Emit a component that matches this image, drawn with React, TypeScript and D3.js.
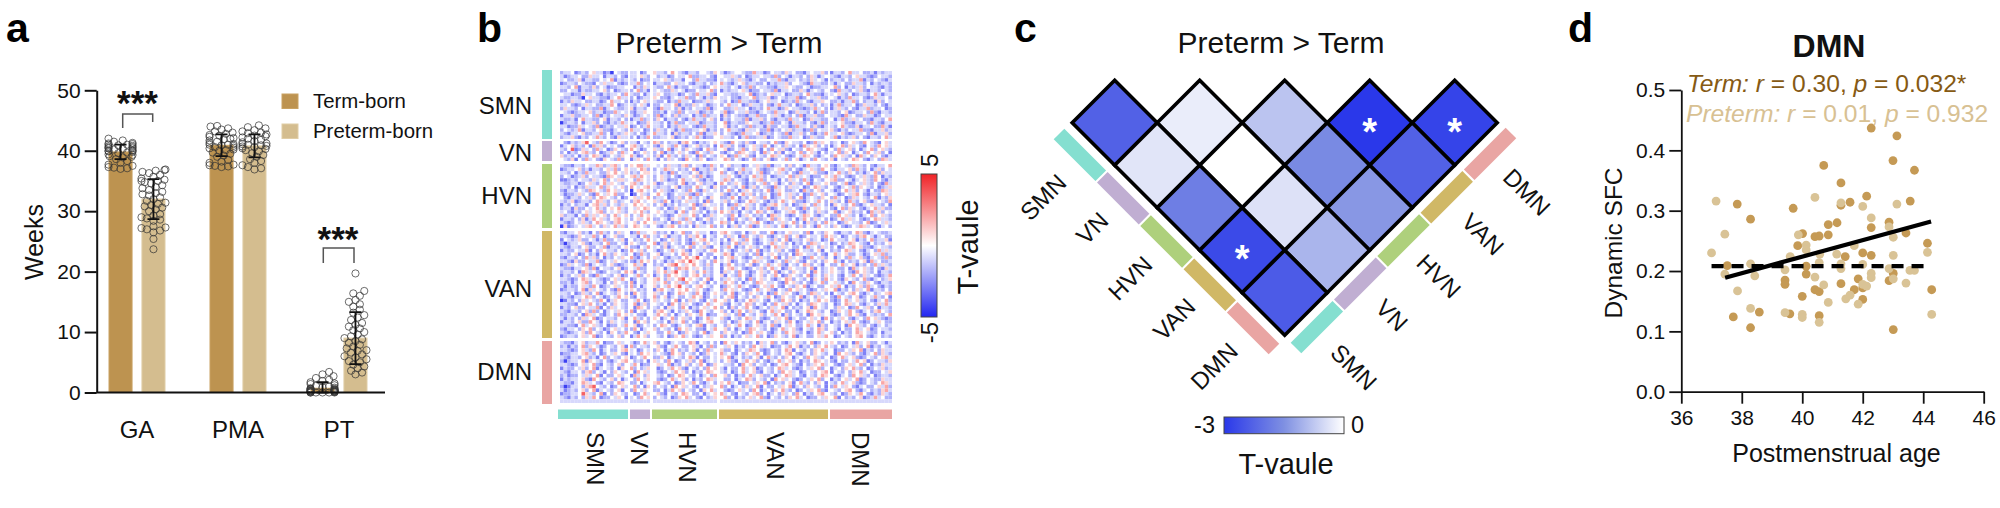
import React, { useEffect, useRef } from "react";
import * as d3 from "d3";

const FONT = "'Liberation Sans', Arial, sans-serif";

// panel a
const groups = ["GA", "PMA", "PT"];
const cohorts = ["Term-born", "Preterm-born"];
const termMeans = [39.8, 40.9, 0.7];
const pretermMeans = [32, 40.8, 9];
const termSd = [1.2, 1.8, 1];
const pretermSd = [3.3, 1.9, 4.3];
const weekTicks = [0, 10, 20, 30, 40, 50];
const gaTerm = [37, 37.1, 37.2, 37.3, 37.5, 37.7, 38, 38.3, 38.6, 38.9, 39, 39.1, 39.3, 39.4, 39.6, 39.7, 39.8, 39.9, 40, 40, 40.1, 40.2, 40.3, 40.4, 40.4, 40.5, 40.6, 40.7, 40.8, 40.9, 41, 41, 41.1, 41.2, 41.3, 41.5, 41.7, 42];
const gaPreterm = [23.7, 25.4, 26.5, 26.8, 27, 27.2, 27.3, 27.5, 28.4, 28.6, 28.8, 29, 29.3, 29.5, 30, 30.3, 30.6, 30.8, 31, 31.2, 31.4, 31.7, 32, 32.3, 32.6, 32.8, 33, 33.2, 33.5, 33.8, 34, 34.3, 34.6, 34.8, 35, 35, 35.2, 35.4, 35.7, 36, 36.3, 36.5, 36.7, 36.8, 36.9];
const pmaTerm = [37.3, 37.4, 37.5, 37.6, 37.7, 38, 38.2, 38.5, 39, 39.2, 39.5, 39.7, 40, 40.1, 40.2, 40.4, 40.5, 40.6, 40.8, 40.9, 41, 41, 41.1, 41.3, 41.5, 41.7, 41.9, 42, 42.1, 42.3, 42.5, 42.6, 42.8, 43, 43.2, 43.5, 43.7, 44, 44.1];
const pmaPreterm = [36.9, 37.1, 37.3, 37.6, 38, 38.3, 38.6, 39, 39.3, 39.6, 39.9, 40.1, 40.3, 40.4, 40.6, 40.7, 40.8, 40.9, 41, 41.1, 41.2, 41.4, 41.6, 41.8, 42, 42.2, 42.4, 42.5, 42.7, 42.9, 43, 43.2, 43.4, 43.7, 43.9, 44.2];
const ptTerm = [0, 0, 0, 0, 0, 0, 0.1, 0.1, 0.1, 0.2, 0.2, 0.2, 0.3, 0.3, 0.3, 0.4, 0.4, 0.5, 0.5, 0.6, 0.6, 0.7, 0.8, 0.9, 1, 1.1, 1.2, 1.4, 1.5, 1.7, 1.9, 2.1, 2.4, 2.7, 3, 3.4];
const ptPreterm = [3, 3.3, 3.6, 4, 4.3, 4.6, 5, 5.2, 5.5, 5.8, 6, 6.3, 6.6, 6.9, 7, 7.3, 7.6, 7.9, 8.2, 8.5, 8.8, 9, 9.3, 9.6, 10, 10.3, 10.6, 10.9, 11.2, 11.5, 12, 12.4, 12.8, 13.2, 13.7, 14.2, 14.6, 15, 15.3, 16, 16.4, 16.8, 19.7];

// panel b
const networks = ["SMN", "VN", "HVN", "VAN", "DMN"];
const networkColors = ["#85dfd0", "#c0aed2", "#aed07c", "#d0b866", "#e9a5a3"];
const networkCells = [19, 6, 18, 30, 17];
// one row per region, hand typed estimate: . none, a-d negative, x-z positive
const heatLevels: Record<string, number> = { ".": 0, a: -0.9, b: -1.8, c: -2.9, d: -4.4, x: 1, y: 2, z: 3.6 };
const heatRows = [
  "baa.cbab.xaacbd.abbaa.cb.xaab.y.abcaab..abxacba..abbyaacb.aabxa.bbca.aaxbcaab.yaa.bbacabaa",
  "acbaa.bbxaa.caab.bcaa.xab.baacb.aa.ybbaa.bc.aaxab.cbaa.aabyb.acaab.bxaca.abcaab.xaabcb.aab",
  "a.bbaxcaabb.a.ycabaab.cbbaa.xabaac..byaabbca.abaxabca.bb.aaybcaa.babxa.acbaab.baaycab.abca",
  "cbaab.abbc.axaa.bcbaayb.acaabb.xaa.bcaab.bayabca.xbaabb.cabaaxb..abcyaabbaca.bbxaab.cabaab",
  "aab.ycaabxb.acbbaa..cabxaabb.yacabb.aabcb.xaab.acabyb.aabbcaax.abb.acbbaa.yb.cabaxb.aabcab",
  "bb.aacabbaa.xb.cbaab.ybaca.abbxa.acbb.aa.ybcabaa.xacbb.aabycaa.bbxaca.ab.bcyaab.axbcaab.ab",
  ".aacbbxaa.bcabaa.byabb.caax.bbaacb.abyaaxbc.aabbaa.ycbab.xaa.cbaab.yabbcaa.xab.cbaab.yacaa",
  "abbaabd.xaabbca.yaab.cbaax.bbca.aaybb.acabxaa.bbcaa.ybaaxcb.abaaycb.aaxbb.acabyaa.bcbxaa.b",
  "cabxaa.bbaacb.yaa.bcab.xaabb.cabyaa.cbbaxa.ab.cbyaabbca.xaa.cbabya.bcaax.bbacaayb.baacxb.a",
  "aa.bcbaxa.bbaay.cbaab.xacbb.aa.ycabbxa.acbab.yaa.cbxaab.bcayaab.cbaaxb.bacaybaa.cbxaab.bca",
  "bxaab.caabbyca.abbaxcaab.bcyaa.bxcab.aabyca.bbaxaa.cbab.yaacbx.aabcbaya.bcaxab.bcaaybaa.cb",
  ".abcbaa.xbaacbbya.abcaax.bbac.abyb.aaxcbab.aycb.aaxbbca.abyaa.cbxaab.caybaab.xcbaa.bybcaab",
  "caaxbbaa.bycab.aabxacba.abyca.bxbaa.cabybaacxb.abbcaaybb.axacab.bycaaxbb.aabcya.bbxaacb.aa",
  "abbac.yaabb.xcaab.bcaaybabx.caab.bcayaab.xbcab.aabycaaxb.bcaabyaa.cbxaabb.caybaxa.bbcaab.y",
  "dbaab.caaxb.bcabayaa.cbbxaab.caybb.aaxcbaab.ycaabbx.aacbaybb.acxaab.bcaybaa.xbbcaa.byabcaa",
  "aacbbxa.abycbab.aaxcb.bayaab.cabxaa.bcbyaab.xcab.abybaacxbb.aacbyaa.bxbcaab.yabbxcaa.bbyac",
  "b.abaycaab.xbbca.abyaa.cbbxab.acaybbaa.xcabb.yaabcxaa.bbycab.axbaacbyb.aaxbcab.aaybbcaaxba",
  "abcaa.xbbaayb.cabaxab.bcayaab.cxbaab.bycaaxb.abcbyaa.xcbab.abycaaxb.bcabyaa.xbcbaa.bycaaxb",
  "baaxbcab.ayab.bcxaab.cabybbaa.xcbab.ayacbb.xaab.caybbaaxcb.abbyaa.cbxabb.aycabaxb.bcaab.ya",
  ".bcabaxz.aby.acb.xbaac.abyxb.baacxy.bcaba.xabcy.abxbc.aab.ybcx.aab.cbyax.ba.cb.xaby.abc.xa",
  "ca.xbab.cyaxb.a.bc.xyab.abcx.aby.bca.xbab.cyaxb.bca.xaby.ca.bxab.cya.xb.bca.ybxa.bc.aby.xa",
  "ab.zcbxa.bya.cbx.aby.acb.xab.yca.bx.abc.yab.xcb.ayb.xac.by.axbc.ab.yx.abc.bya.xb.ca.yb.xab",
  "b.cab.xyab.cbax.bya.cb.xab.ycab.xa.bcy.abx.bca.byx.ab.cya.bxc.ab.yb.xac.ba.ybx.ca.by.axb.c",
  "xbab.cab.yxacb.abx.yacb.abxc.yab.bxa.cyb.abx.cbya.xbc.ab.yxa.bcb.ayx.bca.by.xab.cya.bx.bca",
  ".abxc.bya.bcx.abyb.cax.byac.bxa.bcy.abx.cba.yxb.acb.yab.xcb.ayb.xca.by.abxc.ab.yx.bca.byxa",
  "abbcaab.aayxbaxya.bx.yyax.a.bxaabxyb.aacbyab.xbaacb.axabycaa.bxb.acyaab.xbca.abyxab.bcaa.y",
  "cbaa.xbacaab.xayb.xaa.yxbb.ayxa.bab.ycaabxb.acb.ayaa.xbcba.xyab.bca.xaby.bcaa.xbyab.caxb.a",
  "aab.cabyaa.bbx.y.axbab.xxa.bacyb.aab.xcaba.yb.acxbab.aycb.axab.bcyaa.xbbca.yabx.baca.ybxaa",
  "b.acbaxb.aabcyx.ab.xyay.ab.xab.bcaa.xbyacb.aax.bcab.yaxb.cbaa.ybxa.acbb.xaya.bcb.axaby.cab",
  "ccbab.aabxa.yb.axxa.byx.ab.xacbb.yaa.xbcab.ayxb.abc.axyb.aac.bxa.byac.ab.xybb.aca.xaby.bca",
  "abbaacb.xab.yax.ab.xyab.axcb.aab.ycab.xbaacy.bax.bcab.ayb.xca.bxab.ycaa.xbb.aycb.axab.bcya",
  "aab.cabxaa.ybx.a.xby.a.xyabaab.xcabb.ya.acxbb.ab.ycaxb.abcya.bxaa.cb.yxab.bca.aybx.ab.cbax",
  "bcaab.abyx.aby.xa.bd.xy.ab.xabca.aby.bcxa.ab.yb.cax.bab.ycax.bba.cyab.xb.acb.yaxb.ac.bbyxa",
  "acbbaxa.bcy.ax.ybb.dc.xab.y.acb.aaxbcyb.aa.xbcab.yaxb.ba.cby.axab.cbya.xb.acb.axy.bcaab.xa",
  ".bcaab.axb.yx.ab.cb.xax.ybaa.cbaxb.yab.acx.bbay.cab.xaby.cba.axb.yca.abx.bya.cbxa.ab.ycabx",
  "abaxcbaab.yxab.xba.bxy.a.xaby.cab.xaab.cyb.axb.acb.yxa.bcab.ya.xbbca.ay.bxab.cyab.xbca.aby",
  "cab.baac.xyaxb.abxa.y.x.ab.xcab.baa.ycbx.aab.cbya.xab.bcaxy.ab.cbax.bya.bcx.ab.ybca.xaab.c",
  "baacxbb.a.yab.x.yab.ax.yx.ab.cbxa.aby.bca.xb.ayb.cxab.baycb.axa.bcyb.ax.abc.ybxa.bca.yaxbb",
  "a.bcab.xa.xyb.a.xab.x.yab.x.baac.yb.xab.caby.xbac.ab.yxb.acb.axy.bca.bxab.yca.xbab.cyaxb.a",
  "xbaac.byaxa.xb.ya.xb.ay.xa.abcb.xaa.yb.cbxa.aby.cax.bab.cyxa.bcb.ayx.bca.bby.xab.ca.yb.xab",
  "caab.bxcay.xab.xy.ab.xa.ybb.acx.abya.cb.xbaa.cyb.abx.cba.ybx.ab.cay.bxa.bcb.yaxa.bcb.yxaab",
  "abcb.axab.yx.abxy.a.xb.y.xaab.cby.axb.acab.yxb.cab.axy.bcb.axa.yb.cxab.bya.cbx.aab.ycb.axa",
  "dxcba.axya.bxa.yaxb.yx.ab.bcaxy.bab.cxaa.ybb.caxb.aycb.axab.yca.bxb.acy.abx.bcb.ayxa.bca.b",
  "bcaa.xbac.byab.bxa.cbyaa.xbab.ca.ybb.xaa.cbxy.abb.cax.bb.ycab.xaa.byc.abx.bcaab.yxbca.abba",
  "aabcbx.aayb.ca.xbb.aac.ybab.xcaab.bxay.c.ab.bxa.cyb.abx.bca.ayb.xcb.aa.byxa.cb.abxy.aca.bb",
  "c.abaxbb.acaybb.axc.bab.ya.cb.xab.bca.xy.bab.cx.aby.bca.abxb.ycaab.xba.cby.aab.xcab.ybaaxc",
  "bdbaa.xbcaab.ybb.acx.abb.ycaxb.ab.bcya.bx.acab.ybxa.bcb.aya.xb.cab.byxa.acb.bayx.abc.bab.x",
  "abcaab.xbb.aycaab.xbbc.aya.bxca.ab.yb.axbc.bay.cab.xab.bc.yaxa.bb.cya.bxab.cb.ay.xbbca.aab",
  "cabb.aayc.bx.aab.cby.axb.acb.aya.xbc.aab.xyb.acb.axb.ycab.axb.bcy.aab.xc.bab.yxa.bca.byaxa",
  "aab.xcb.bac.yabx.ab.cbyab.xcaa.b.yxb.ac.bb.ayxc.aab.byc.ax.bab.cyx.aab.bc.ya.xbb.acb.xayba",
  "bcaab.byaxb.cab.ax.ybca.bxa.bcaab.y.xz.ab.cb.xya.bcb.axab.yc.bxa.acby.axb.ca.bya.xbca.abyb",
  "aabcxbb.aaycb.ax.abbcay.xb.acab.xy.zx.ab.bya.xcb.ab.yxa.bca.bya.xbc.ab.bx.yac.bab.xcya.bba",
  "cbxa.abyca.ab.xbcba.yaxc.bab.xyz.ax.y.abxb.cay.bab.xcb.aya.xbc.ab.yxb.ac.bb.ya.xcab.byaxab",
  "abbcaa.xbyc.aab.xcb.aybb.ax.ca.byxy.ax.bab.c.xya.bcb.axb.ya.cbx.aab.yc.bax.bb.cya.xab.bcxa",
  "baab.cyxa.bcb.aab.yxc.ab.bx.yaxz.ab.xb.yab.cxa.by.acb.xab.yca.bx.ab.cy.bax.ab.bcy.xab.caab",
  "cab.axb.bcya.ab.xcb.ayb.xca.by.x.ab.xy.bab.xc.aby.bca.xb.ay.cbx.ab.yca.bxa.bc.ay.bxa.bcbay",
  "aabcb.yxa.abcb.xay.cb.ab.xy.bxa.yz.x.ab.yc.bax.ab.cyb.xa.bca.yxb.ab.cx.bya.bcx.ab.ybca.bax",
  "bbaca.xyb.aac.bx.abyc.ab.xa.yb.xaby.ab.xc.bay.xb.ca.byx.aa.bcy.xab.bca.yb.xab.cy.abx.bcaab",
  "acabb.xaby.cba.xa.byb.ca.xb.ay.xz.ab.xy.ab.cbx.aya.bcb.xay.bc.abx.yca.bb.xay.cab.xbya.bcab",
  "cbaab.ycxa.ab.bcy.ax.bab.cxy.ab.x.y.ax.bca.by.xa.bcb.ya.xbc.aby.xa.bcb.ax.ycab.bxa.ycaab.b",
  "aab.cbxab.yca.abx.bcy.ab.xab.cb.yx.aby.cb.xab.yca.bx.ab.cby.ax.bca.byxa.bc.ab.xy.bca.ba.xy",
  "babcaa.yxb.acb.ay.xbc.ab.yb.xca.bb.ay.xcb.ab.xyc.ab.bx.ay.cbx.ab.yca.bxa.bcy.ab.xcb.ayab.c",
  "dcab.bxa.aby.cax.bb.ay.cbxa.ab.yc.bxa.bc.ay.xb.cab.yxa.bc.aby.xb.cab.ay.xbcb.ya.xab.bca.yb",
  "aabbc.xay.bac.bx.ab.ycaxb.ab.cy.bxa.bcb.ya.xbc.ab.yxb.ac.by.axb.ca.byx.ab.cb.yxa.bca.bxaya",
  "cab.xbb.aayc.bxa.ab.cyx.bab.cxa.by.cab.xa.yb.cxb.ay.bca.bxa.yc.bab.xcy.ab.bxa.cby.axb.caab",
  "abcaab.xbyb.ca.ax.byc.ab.bxy.ac.bax.bcy.ab.xb.cay.bxa.bc.yax.bb.ca.yx.ab.cbx.ay.bca.bxy.ab",
  "bbaab.cyxa.bca.by.xa.bbc.ay.xb.ca.bx.ay.cbb.xa.byc.ab.xb.ay.cxb.ab.cy.xa.bcb.ay.xbc.abab.y",
  "acab.bxa.ycb.aab.xc.yab.bx.ca.yb.xab.cb.ya.xbc.ab.yxa.bcb.ax.yca.bb.xa.cyb.ax.bca.by.xabcb",
  "caab.xbby.ac.bxa.ab.cy.xb.ab.cxa.yb.bca.xy.ab.cbx.ab.yca.bxa.by.cb.ax.yb.cab.xay.bcb.ax.bb",
  "aabbc.ya.xab.cbb.ay.xcb.ab.yx.bca.ab.xyc.ab.bx.ay.cb.xab.ybc.ax.bb.ya.cxb.ab.cy.xab.bca.ba",
  "bcaa.bx.yb.acb.xa.bby.ca.xb.ab.cy.xa.bbc.ay.xb.ca.byx.ab.cb.ya.xbc.ab.yxb.ac.bb.ya.xcb.aab",
  "abcba.xby.ab.cx.bay.bc.ax.bb.ya.cbx.ab.yca.bx.ab.cby.ax.bca.by.xab.cb.ya.xb.cab.yx.abb.caa",
  "cbaab.xa.ycb.ab.xb.cay.xb.ab.cbx.ya.bcb.ax.yb.cab.xa.yb.cbx.ab.yca.bb.xay.cb.ab.xy.bca.bab",
  "abbca.xbaay.cbb.xa.acb.yaxb.bca.ab.yxc.ab.bcy.ax.bab.cxa.yb.bca.xab.ycb.ax.bab.cya.xbb.aca",
  "bacab.ybx.acb.ab.xcyb.aab.xbc.ay.bb.xac.byb.ax.cab.by.xa.cbb.ay.xcab.bx.yab.cb.axb.ycab.ab",
  "aabcb.xaby.ca.bb.xya.cb.abx.cay.bab.xc.bya.xbb.ca.ayx.bcb.ab.yxc.ab.bx.ya.cbb.ax.ycab.bxaa",
  "cbbaa.xyab.cb.ax.bca.by.xa.abcy.xb.ab.cbx.aya.bc.bx.ay.cb.ab.xy.bca.bx.ab.cy.xab.bca.ybxab",
  "abcaab.xbac.yb.ab.xcb.ay.bbx.ca.ab.yxc.bb.ax.yca.bab.xc.yab.bx.ca.by.xab.cb.ya.xbcb.ab.xya",
  "bdbaa.ycx.ab.bca.xy.bab.cxa.by.cb.axb.yca.ab.xbc.ay.xb.bca.ya.xb.cab.yx.abc.bb.ay.xcb.aabx",
  "aabcb.xa.ybc.ab.xb.ay.cbb.xa.ycab.xb.ay.cbx.aab.cy.xb.ab.cb.xy.abc.bax.ya.bcb.xa.yb.cabxaa",
  "cabb.axb.yca.ab.cx.yb.bax.cb.ay.xbc.ab.by.xac.bb.ya.xcb.ab.yxa.bcb.ax.yb.ca.bx.yab.cb.axba",
  "abcaa.bxyb.ac.bx.ab.cy.xa.bcb.ay.xb.cab.yx.ab.cb.ya.xbc.ab.by.xa.cb.ab.xyc.ab.bx.ya.cbb.ax",
  "bacbb.axa.yc.bb.xa.cya.bx.ab.cb.yx.ab.ca.by.xb.cab.ya.xbb.ca.yxa.bc.ab.yx.bca.by.xab.cbaab",
  "cabaa.xbcy.ab.xb.ca.by.ax.bcb.ya.xb.cab.yxa.bb.ca.yxb.ab.cy.xa.bcb.ax.yb.cab.xa.ycb.abbxaa",
  "abbca.yxa.bc.ab.yx.bb.ca.xy.ab.cbx.ay.bca.bx.ya.cbb.ax.yc.bab.xc.yab.bx.cab.ya.xbcb.ab.yxa",
  "bdcaa.bxyz.ab.cb.xa.yb.cxb.ab.cy.xa.bc.bax.yb.ca.bxa.yc.bb.ax.yca.bx.ab.cby.ax.bca.bb.xayb",
  "acbab.xb.yca.ab.xc.by.ax.bb.cay.xb.ab.cx.ya.bcb.xa.by.ca.bx.yab.cb.ax.ybc.ab.xy.bca.babxya",
  "cbbaa.zxab.yc.bx.ab.cb.ya.xbc.ab.yx.bb.ca.xya.bc.ab.xyb.ca.bxa.by.cab.xy.ab.cbx.ay.bcabxab",
  "abcab.bxay.cbb.ax.ca.by.xb.ab.cbx.ya.bc.bax.yb.cab.xa.ybc.ab.bx.ya.cbb.ax.yc.bab.xcbaya.bb",
];

// panel c, each row runs from the left side of the triangle to the right
const triangleValues = [
  [-2.3, -0.25, -0.8, -3, -2.8],
  [-0.35, 0, -1.6, -2.3],
  [-1.8, -0.4, -1.4],
  [-2.7, -1],
  [-2.4],
];
const significantCells = ["0-3", "0-4", "3-0"];

// panel d
const ageTicks = [36, 38, 40, 42, 44, 46];
const sfcTicks = [0, 0.1, 0.2, 0.3, 0.4, 0.5];
const termAge = [37.85, 38.29, 39.7, 40.01, 39.85, 40.42, 40.56, 40.86, 40.86, 41.15, 41.28, 41.28, 41.58, 42.13, 43.57, 42.87, 42.28, 43.43, 44.14, 41.42, 42, 42.28, 37.52, 40.13, 40.13, 39.43, 39.43, 41.28, 41.85, 41.72, 43.01, 42.87, 40.42, 40.56, 40, 42, 42, 44.28, 37.72, 38.58, 38.29, 39.59, 40.56, 43.01, 42.28, 43.13, 43, 43.71, 40.71];
const termSfc = [0.311, 0.286, 0.304, 0.262, 0.242, 0.257, 0.258, 0.26, 0.277, 0.28, 0.346, 0.309, 0.314, 0.324, 0.316, 0.281, 0.272, 0.263, 0.246, 0.224, 0.23, 0.226, 0.209, 0.208, 0.195, 0.185, 0.178, 0.179, 0.187, 0.169, 0.196, 0.184, 0.169, 0.166, 0.158, 0.153, 0.172, 0.169, 0.124, 0.132, 0.106, 0.129, 0.126, 0.103, 0.437, 0.424, 0.383, 0.367, 0.375];
const pretermAge = [37.15, 37.44, 37, 37.44, 38.29, 38.43, 37.86, 38.29, 39.43, 40, 40, 40.56, 40.86, 40.71, 40.42, 39.43, 39.6, 39.87, 40.13, 40.13, 40.42, 41.28, 41.14, 40.56, 41.28, 41.28, 41.72, 42, 42.28, 42, 42.28, 42.28, 42.87, 43.01, 43.01, 42.87, 43.01, 43.13, 43.43, 43.56, 43.71, 44.14, 44.28, 41.44, 41.58, 41.85, 42, 42.13, 40.58];
const pretermSfc = [0.316, 0.261, 0.23, 0.195, 0.212, 0.192, 0.167, 0.138, 0.131, 0.128, 0.123, 0.115, 0.148, 0.177, 0.19, 0.202, 0.224, 0.26, 0.243, 0.235, 0.322, 0.313, 0.228, 0.214, 0.212, 0.204, 0.242, 0.307, 0.288, 0.211, 0.196, 0.189, 0.273, 0.256, 0.226, 0.204, 0.187, 0.311, 0.18, 0.201, 0.201, 0.231, 0.128, 0.154, 0.16, 0.145, 0.178, 0.175, 0.228];
const termFit: [number, number][] = [[37.45, 0.189], [44.26, 0.282]];
const pretermFit: [number, number][] = [[37, 0.208], [44.1, 0.208]];

const TERM = "#bd9350";
const PRETERM = "#d4bd8f";

type Sel = d3.Selection<any, any, any, any>;

function put(g: Sel, str: string, x: number, y: number, size: number, anchor = "middle", angle = 0) {
  return g
    .append("text")
    .attr("transform", `translate(${x},${y}) rotate(${angle})`)
    .attr("text-anchor", anchor)
    .attr("font-size", size)
    .attr("fill", "#111")
    .text(str);
}

function styleAxis(a: Sel, size: number, width: number) {
  a.attr("font-family", FONT).attr("font-size", size);
  a.selectAll("path,line").attr("stroke", "#111").attr("stroke-width", width);
  a.selectAll("text").attr("fill", "#111");
}

// spreads the points sideways so they sit as a swarm, only x is computed
function swarm(values: number[], y: d3.ScaleLinear<number, number>, maxOffset: number) {
  const placed: { x: number; y: number }[] = [];
  values.forEach((v) => {
    const py = y(v);
    let best = 0;
    for (let k = 0; k <= 6; k++) {
      const tries = k === 0 ? [0] : [k * 2.2, -k * 2.2];
      const free = tries.find(
        (t) => Math.abs(t) <= maxOffset && placed.every((p) => Math.hypot(p.x - t, p.y - py) > 5.4)
      );
      if (free !== undefined) {
        best = free;
        break;
      }
      best = tries[placed.length % tries.length];
    }
    placed.push({ x: Math.max(-maxOffset, Math.min(maxOffset, best)), y: py });
  });
  return placed;
}

function drawBars(root: Sel) {
  const g = root.append("g");
  const y = d3.scaleLinear().domain([0, 50]).range([392.5, 90.3]);
  const x = d3.scalePoint<string>().domain(groups).range([137, 339]);
  const inner = d3.scaleBand<string>().domain(cohorts).range([-28, 28]).paddingInner(0.3);

  const series = [
    { name: cohorts[0], means: termMeans, sd: termSd, fill: TERM, edge: "#c9a262", points: [gaTerm, pmaTerm, ptTerm] },
    { name: cohorts[1], means: pretermMeans, sd: pretermSd, fill: PRETERM, edge: "#e0cda6", points: [gaPreterm, pmaPreterm, ptPreterm] },
  ];

  series.forEach((s) => {
    groups.forEach((grp, i) => {
      const cx = x(grp)! + inner(s.name)! + inner.bandwidth() / 2;
      g.append("rect")
        .attr("x", cx - inner.bandwidth() / 2)
        .attr("y", y(s.means[i]))
        .attr("width", inner.bandwidth())
        .attr("height", y(0) - y(s.means[i]))
        .attr("fill", s.fill)
        .attr("stroke", s.edge)
        .attr("stroke-width", 1);
      g.append("g")
        .selectAll("circle")
        .data(swarm(s.points[i], y, 12))
        .join("circle")
        .attr("cx", (d) => cx + d.x)
        .attr("cy", (d) => d.y)
        .attr("r", 3.6)
        .attr("fill", "none")
        .attr("stroke", "#333")
        .attr("stroke-opacity", 0.8)
        .attr("stroke-width", 0.9);
      const top = y(s.means[i] + s.sd[i]);
      const bottom = y(Math.max(0, s.means[i] - s.sd[i]));
      g.append("path")
        .attr("d", `M${cx - 6},${top}H${cx + 6}M${cx},${top}V${bottom}M${cx - 6},${bottom}H${cx + 6}`)
        .attr("fill", "none")
        .attr("stroke", "#111")
        .attr("stroke-width", 1.8);
    });
  });

  const left = g
    .append("g")
    .attr("transform", "translate(96.7,0)")
    .call(d3.axisLeft(y).tickValues(weekTicks).tickSize(12).tickSizeOuter(0).tickPadding(4));
  styleAxis(left, 21, 2);
  g.append("line").attr("x1", 96.7).attr("x2", 385).attr("y1", y(0)).attr("y2", y(0)).attr("stroke", "#111").attr("stroke-width", 2);

  groups.forEach((grp) => put(g, grp, x(grp)!, 438, 24));
  put(g, "Weeks", 43, 242, 25, "middle", -90);

  // significance brackets
  [
    { x1: 122.7, x2: 152.7, top: 114, l: 128, r: 122, label: 137.5, base: 115 },
    { x1: 323.3, x2: 354, top: 248, l: 263, r: 263, label: 338, base: 251 },
  ].forEach((b) => {
    g.append("path")
      .attr("d", `M${b.x1},${b.l}V${b.top}H${b.x2}V${b.r}`)
      .attr("fill", "none")
      .attr("stroke", "#555")
      .attr("stroke-width", 1.5);
    put(g, "***", b.label, b.base, 35).attr("font-weight", "bold");
  });

  cohorts.forEach((c, i) => {
    const ly = 94 + i * 30;
    g.append("rect").attr("x", 282).attr("y", ly).attr("width", 16).attr("height", 14.5).attr("fill", series[i].fill).attr("stroke", series[i].edge);
    put(g, c, 313, ly + 14, 20.4, "start");
  });
}

function drawMatrix(root: Sel, defs: Sel) {
  const g = root.append("g");
  const color = d3.scaleLinear<string>().domain([-5, 0, 5]).range(["#2226f0", "#ffffff", "#f02226"]);
  const xBlocks = [[560, 628], [630, 650], [653, 717], [720, 828], [830, 892]];
  const yBlocks = [[71, 139], [141, 161], [164, 228], [231, 338], [341, 403]];

  const starts = d3.cumsum(networkCells);
  const indexRange = (n: number) => d3.range(n === 0 ? 0 : starts[n - 1], starts[n]);
  const xBands = networks.map((_, n) => d3.scaleBand<number>().domain(indexRange(n)).range(xBlocks[n] as [number, number]));
  const yBands = networks.map((_, n) => d3.scaleBand<number>().domain(indexRange(n)).range(yBlocks[n] as [number, number]));

  const cellValue = (i: number, j: number) => heatLevels[heatRows[i]?.[j] ?? "a"] ?? 0;

  defs.append("filter").attr("id", "soft").append("feGaussianBlur").attr("stdDeviation", 0.55);
  const cells = g.append("g").attr("filter", "url(#soft)");
  networks.forEach((_, rn) => {
    networks.forEach((__, cn) => {
      indexRange(rn).forEach((i) => {
        indexRange(cn).forEach((j) => {
          const v = cellValue(i, j);
          if (v === 0) return;
          cells
            .append("rect")
            .attr("x", xBands[cn](j)!)
            .attr("y", yBands[rn](i)!)
            .attr("width", xBands[cn].bandwidth())
            .attr("height", yBands[rn].bandwidth())
            .attr("fill", color(v));
        });
      });
    });
  });

  const leftBars = [[70, 139], [141, 161], [164, 228], [231, 338], [341, 404]];
  const bottomBars = [[558, 628], [630, 650], [652, 717], [719, 828], [830, 892]];
  const leftLabelY = [105, 152, 195, 288, 371];
  const bottomLabelX = [596, 640, 688, 776, 861];
  networks.forEach((n, i) => {
    g.append("rect").attr("x", 542).attr("y", leftBars[i][0]).attr("width", 10).attr("height", leftBars[i][1] - leftBars[i][0]).attr("fill", networkColors[i]);
    g.append("rect").attr("x", bottomBars[i][0]).attr("y", 409.5).attr("width", bottomBars[i][1] - bottomBars[i][0]).attr("height", 9.5).attr("fill", networkColors[i]);
    put(g, n, 532, leftLabelY[i], 24, "end").attr("dy", "0.36em");
    put(g, n, bottomLabelX[i], 432, 24, "start", 90).attr("dy", "0.36em");
  });

  put(g, "Preterm > Term", 719, 53, 30);

  const grad = defs.append("linearGradient").attr("id", "bwr").attr("x1", 0).attr("x2", 0).attr("y1", 1).attr("y2", 0);
  [-5, 0, 5].forEach((t) => grad.append("stop").attr("offset", (t + 5) / 10).attr("stop-color", color(t)));
  g.append("rect").attr("x", 921).attr("y", 174).attr("width", 16).attr("height", 143).attr("fill", "url(#bwr)").attr("stroke", "#444").attr("stroke-width", 1);
  put(g, "5", 929, 167, 24, "start", -90).attr("dy", "0.36em");
  put(g, "-5", 929, 322, 24, "end", -90).attr("dy", "0.36em");
  put(g, "T-vaule", 968, 247, 29, "middle", -90).attr("dy", "0.36em");
}

function drawTriangle(root: Sel, defs: Sel) {
  const g = root.append("g");
  const half = 42.5;
  const color = d3.scaleLinear<string>().domain([-3, -1.5, 0]).range(["#2a38ea", "#7f90e2", "#ffffff"]);
  const column = d3.scaleLinear().domain([0, 1]).range([1114.7, 1199.7]);
  const row = d3.scaleLinear().domain([0, 1]).range([122.7, 165.2]);

  triangleValues.forEach((vals, r) => {
    vals.forEach((v, k) => {
      const cx = column(k) + r * half;
      const cy = row(r);
      g.append("path")
        .attr("d", `M${cx},${cy - half}L${cx + half},${cy}L${cx},${cy + half}L${cx - half},${cy}Z`)
        .attr("fill", color(v))
        .attr("stroke", "#000")
        .attr("stroke-width", 3.6)
        .attr("stroke-linejoin", "miter");
      if (significantCells.includes(`${r}-${k}`)) {
        put(g, "*", cx, cy + 22, 38).attr("fill", "#fff").attr("font-weight", "bold");
      }
    });
  });

  const along = d3.scaleBand<string>().domain(networks).range([0, 304]).paddingInner(0.035);
  const leftBand = g.append("g").attr("transform", "translate(1059,134) rotate(45)");
  const rightBand = g.append("g").attr("transform", "translate(1296,348) rotate(-45)");
  networks.forEach((n, i) => {
    leftBand.append("rect").attr("x", along(n)!).attr("y", -7.5).attr("width", along.bandwidth()).attr("height", 15).attr("fill", networkColors[i]);
    rightBand.append("rect").attr("x", along(n)!).attr("y", -7.5).attr("width", along.bandwidth()).attr("height", 15).attr("fill", networkColors[i]);
  });

  const leftLabels = [[1043, 197], [1092, 228], [1130, 278], [1174, 319], [1214, 366]];
  const rightLabels = [[1354, 367], [1392, 315], [1439, 276], [1483, 234], [1527, 192]];
  networks.forEach((n, i) => {
    put(g, n, leftLabels[i][0], leftLabels[i][1], 24, "middle", -45).attr("dy", "0.36em");
    put(g, n, rightLabels[i][0], rightLabels[i][1], 24, "middle", 45).attr("dy", "0.36em");
  });

  put(g, "Preterm > Term", 1281, 53, 30);

  const grad = defs.append("linearGradient").attr("id", "bw");
  [-3, -1.5, 0].forEach((t) => grad.append("stop").attr("offset", (t + 3) / 3).attr("stop-color", color(t)));
  g.append("rect").attr("x", 1224).attr("y", 417).attr("width", 120).attr("height", 16.7).attr("fill", "url(#bw)").attr("stroke", "#444").attr("stroke-width", 1);
  put(g, "-3", 1215, 425, 23.5, "end").attr("dy", "0.36em");
  put(g, "0", 1351, 425, 23.5, "start").attr("dy", "0.36em");
  put(g, "T-vaule", 1286, 474, 29);
}

function drawScatter(root: Sel) {
  const g = root.append("g");
  const x = d3.scaleLinear().domain([36, 46]).range([1681.3, 1983.7]);
  const y = d3.scaleLinear().domain([0, 0.5]).range([391.7, 90]);

  const bottom = g
    .append("g")
    .attr("transform", "translate(0,391.7)")
    .call(d3.axisBottom(x).tickValues(ageTicks).tickSize(12).tickSizeOuter(0).tickPadding(6));
  const left = g
    .append("g")
    .attr("transform", "translate(1681.3,0)")
    .call(d3.axisLeft(y).tickValues(sfcTicks).tickFormat(d3.format(".1f")).tickSize(12).tickSizeOuter(0).tickPadding(4));
  styleAxis(bottom, 21, 1.8);
  styleAxis(left, 21, 1.8);

  const dots = (ages: number[], vals: number[], fill: string) =>
    g.append("g")
      .selectAll("circle")
      .data(ages)
      .join("circle")
      .attr("cx", (d) => x(d))
      .attr("cy", (_, i) => y(vals[i]))
      .attr("r", 4.4)
      .attr("fill", fill);
  dots(termAge, termSfc, "#c59a55");
  dots(pretermAge, pretermSfc, "#d9c396");

  const line = d3.line<[number, number]>().x((d) => x(d[0])).y((d) => y(d[1]));
  g.append("path").attr("d", line(termFit)!).attr("stroke", "#000").attr("stroke-width", 4.2).attr("fill", "none");
  g.append("path").attr("d", line(pretermFit)!).attr("stroke", "#000").attr("stroke-width", 4.2).attr("stroke-dasharray", "12 8").attr("fill", "none");

  put(g, "DMN", 1829, 56.5, 32).attr("font-weight", "bold");
  put(g, "Postmenstrual age", 1836.5, 462, 25);
  put(g, "Dynamic SFC", 1622, 243, 24.5, "middle", -90);

  const stat = (cohort: string, r: string, p: string, px: number, py: number, fill: string) => {
    const t = g.append("text").attr("x", px).attr("y", py).attr("font-size", 24.6).attr("fill", fill);
    t.append("tspan").attr("font-style", "italic").text(`${cohort}: r`);
    t.append("tspan").text(` = ${r}, `);
    t.append("tspan").attr("font-style", "italic").text("p");
    t.append("tspan").text(` = ${p}`);
  };
  stat("Term", "0.30", "0.032*", 1687, 92, "#865a14");
  stat("Preterm", "0.01", "0.932", 1686, 122, "#d8c193");
}

const App: React.FC = () => {
  const svgRef = useRef<SVGSVGElement>(null);

  useEffect(() => {
    if (!svgRef.current) return;
    const svg = d3.select(svgRef.current);
    svg.selectAll("*").remove();
    const defs = svg.append("defs");
    const root = svg.append("g").attr("font-family", FONT);

    drawBars(root);
    drawMatrix(root, defs);
    drawTriangle(root, defs);
    drawScatter(root);

    [["a", 6], ["b", 477], ["c", 1014], ["d", 1568]].forEach(([s, x]) => {
      put(root, s as string, x as number, 42, 41, "start").attr("font-weight", "bold").attr("fill", "#000");
    });
  }, []);

  return (
    <svg
      ref={svgRef}
      width={2000}
      height={508}
      style={{ position: "absolute", left: 0, top: 0, display: "block", background: "#fff" }}
    ></svg>
  );
};

export default App;
